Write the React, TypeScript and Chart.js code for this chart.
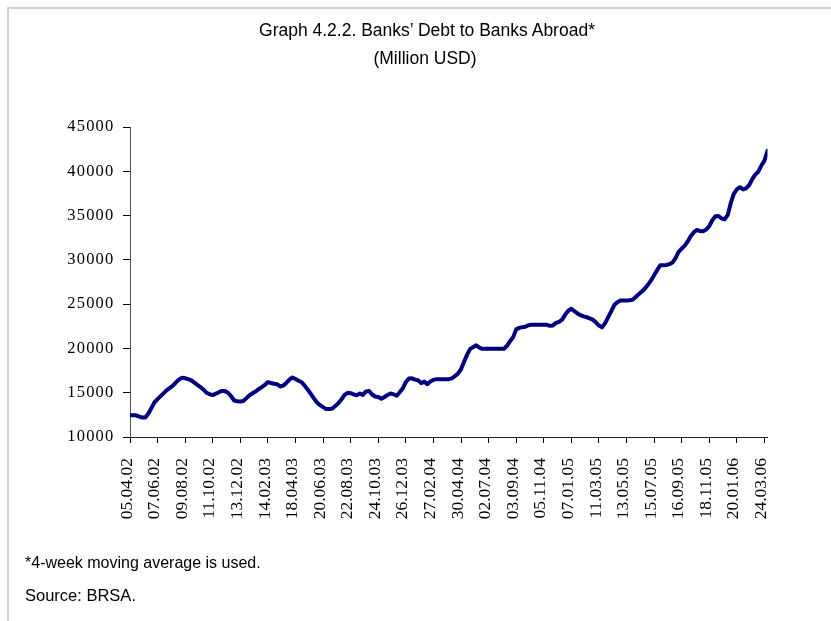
import React, { useEffect, useRef } from 'react';
import { Chart, registerables } from 'chart.js';

Chart.register(...registerables);

const titleText = "Graph 4.2.2. Banks\u2019 Debt to Banks Abroad*";
const subtitleText = '(Million USD)';
const noteText = '*4-week moving average is used.';
const sourceText = 'Source: BRSA.';

// one tick label every 9 weekly observations
const tickLabels = [
  '05.04.02', '07.06.02', '09.08.02', '11.10.02', '13.12.02', '14.02.03',
  '18.04.03', '20.06.03', '22.08.03', '24.10.03', '26.12.03', '27.02.04',
  '30.04.04', '02.07.04', '03.09.04', '05.11.04', '07.01.05', '11.03.05',
  '13.05.05', '15.07.05', '16.09.05', '18.11.05', '20.01.06', '24.03.06',
];
const weeksPerTick = 9;

// weekly debt values (Million USD), 05.04.02 onwards
const debtValues = [
  12450, 12450, 12450, 12300, 12200, 12200, 12650, 13280, 13920, 14270,
  14620, 14960, 15290, 15550, 15800, 16170, 16500, 16700, 16630, 16540,
  16400, 16140, 15870, 15630, 15340, 14990, 14820, 14730, 14890, 15060,
  15200, 15180, 15000, 14600, 14120, 14030, 14010, 14060, 14390, 14720,
  14930, 15150, 15400, 15640, 15880, 16200, 16100, 16020, 15960, 15700,
  15800, 16100, 16470, 16720, 16540, 16350, 16180, 15800, 15340, 14860,
  14360, 13900, 13600, 13380, 13150, 13150, 13220, 13500, 13830, 14240,
  14760, 14990, 14950, 14800, 14720, 14900, 14750, 15150, 15200, 14800,
  14570, 14520, 14320, 14500, 14750, 14920, 14820, 14650, 15050, 15500,
  16200, 16600, 16620, 16480, 16400, 16080, 16250, 15970, 16270, 16450,
  16530, 16530, 16530, 16530, 16530, 16620, 16870, 17150, 17650, 18500,
  19300, 19950, 20150, 20350, 20100, 19950, 19950, 19950, 19950, 19950,
  19950, 19950, 19950, 20300, 20820, 21250, 22150, 22320, 22400, 22440,
  22620, 22670, 22670, 22670, 22670, 22670, 22670, 22550, 22600, 22880,
  23000, 23250, 23820, 24250, 24480, 24200, 23950, 23750, 23620, 23520,
  23400, 23250, 22950, 22580, 22380, 22850, 23500, 24180, 24900, 25220,
  25400, 25400, 25420, 25440, 25500, 25800, 26130, 26430, 26770, 27200,
  27680, 28270, 28840, 29380, 29400, 29420, 29520, 29700, 30200, 30890,
  31260, 31600, 32100, 32700, 33130, 33380, 33250, 33230, 33420, 33800,
  34470, 34920, 34950, 34690, 34580, 35050, 36400, 37450, 37950, 38200,
  37950, 38070, 38420, 39080, 39620, 39950, 40650, 41200, 42300,
];

const yMin = 10000;
const yMax = 45000;
const yStep = 5000;

export default function App() {
  const canvasRef = useRef<HTMLCanvasElement | null>(null);

  useEffect(() => {
    const canvas = canvasRef.current;
    if (!canvas) return;
    const chart = new Chart(canvas, {
      type: 'line',
      data: {
        datasets: [
          {
            data: debtValues.map((v, i) => ({ x: i, y: v })),
            borderColor: '#000080',
            backgroundColor: '#000080',
            borderWidth: 4,
            pointRadius: 0,
            tension: 0,
            borderJoinStyle: 'round',
            borderCapStyle: 'round',
            fill: false,
          },
        ],
      },
      options: {
        animation: false,
        responsive: false,
        devicePixelRatio: 1,
        layout: { padding: { left: 0, top: 127, right: 63.5, bottom: 0 } },
        plugins: {
          legend: { display: false },
          tooltip: { enabled: false },
          title: { display: false },
        },
        scales: {
          x: {
            type: 'linear',
            min: 0,
            max: debtValues.length - 1,
            afterBuildTicks: (axis: any) => {
              axis.ticks = tickLabels.map((_, k) => ({ value: k * weeksPerTick }));
            },
            afterFit: (axis: any) => {
              axis.height = 621 - 437;
            },
            ticks: {
              autoSkip: false,
              minRotation: 90,
              maxRotation: 90,
              padding: 15,
              labelOffset: -3,
              color: '#000',
              font: { family: "'Liberation Serif', 'Times New Roman', serif", size: 17.5 },
              callback: (v: any) => tickLabels[Math.round(Number(v) / weeksPerTick)] ?? '',
            },
            grid: { drawOnChartArea: false, drawTicks: true, tickLength: 6, color: '#000' },
            border: { display: true, color: '#222', width: 1 },
          },
          y: {
            min: yMin,
            max: yMax,
            afterFit: (axis: any) => {
              axis.width = 130;
            },
            ticks: {
              stepSize: yStep,
              padding: 8.5,
              color: '#000',
              font: { family: "'Liberation Serif', 'Times New Roman', serif", size: 16.5 },
              callback: (v: any) => String(v),
            },
            grid: { drawOnChartArea: false, drawTicks: true, tickLength: 7, color: '#000' },
            border: { display: true, color: '#555', width: 1 },
          },
        },
      },
    });

    // slightly wider letter spacing for the value axis labels, as in the original
    const ys: any = chart.scales.y;
    const origDrawLabels = ys.drawLabels.bind(ys);
    ys.drawLabels = (area: any) => {
      const c: any = chart.ctx;
      const prev = c.letterSpacing;
      c.letterSpacing = '1.2px';
      origDrawLabels(area);
      c.letterSpacing = prev || '0px';
    };
    chart.draw();

    return () => {
      chart.destroy();
    };
  }, []);

  const sans = "'Liberation Sans', Arial, Helvetica, sans-serif";

  return (
    <div
      style={{
        position: 'absolute',
        left: 0,
        top: 0,
        width: 831,
        height: 621,
        background: '#fff',
        overflow: 'hidden',
      }}
    >
      <canvas
        ref={canvasRef}
        width={831}
        height={621}
        style={{ position: 'absolute', left: 0, top: 0, width: 831, height: 621, display: 'block' }}
      />
      <div
        style={{
          position: 'absolute',
          left: 7,
          top: 7,
          right: 0,
          bottom: 0,
          borderTop: '2px solid #d4d0c8',
          borderLeft: '2px solid #d4d0c8',
          pointerEvents: 'none',
        }}
      />
      <div
        style={{
          position: 'absolute',
          left: 0,
          width: 854,
          top: 20,
          textAlign: 'center',
          fontFamily: sans,
          fontSize: 17.5,
          lineHeight: '20px',
          color: '#000',
          whiteSpace: 'nowrap',
        }}
      >
        {titleText}
      </div>
      <div
        style={{
          position: 'absolute',
          left: 0,
          width: 850,
          top: 48,
          textAlign: 'center',
          fontFamily: sans,
          fontSize: 17.5,
          lineHeight: '20px',
          color: '#000',
          whiteSpace: 'nowrap',
        }}
      >
        {subtitleText}
      </div>
      <div
        style={{
          position: 'absolute',
          left: 25,
          top: 553.5,
          fontFamily: sans,
          fontSize: 16,
          lineHeight: '18px',
          color: '#000',
          whiteSpace: 'nowrap',
        }}
      >
        {noteText}
      </div>
      <div
        style={{
          position: 'absolute',
          left: 25,
          top: 586,
          fontFamily: sans,
          fontSize: 16.5,
          lineHeight: '18px',
          color: '#000',
          whiteSpace: 'nowrap',
        }}
      >
        {sourceText}
      </div>
    </div>
  );
}
